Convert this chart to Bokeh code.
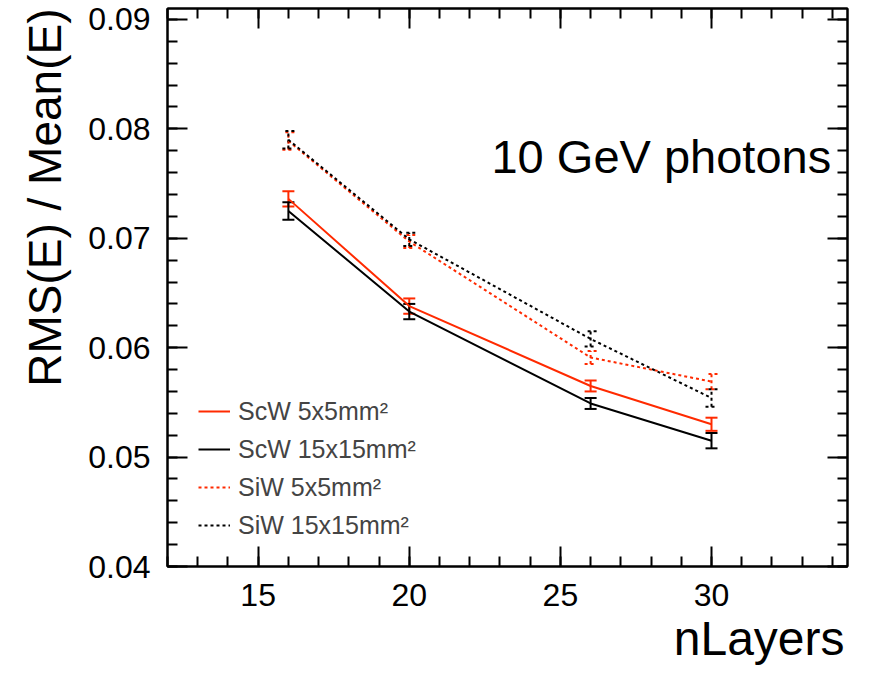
from bokeh.plotting import figure
from bokeh.models import (ColumnDataSource, Whisker, TeeHead, Label, Legend, LegendItem,
                          LinearAxis, SingleIntervalTicker, Range1d, CustomJSTickFormatter, Title)
from bokeh.embed import file_html
from bokeh.resources import INLINE

# ---- data ----
nlayers = [16, 20, 26, 30]
scw_5x5 = [0.0736, 0.0638, 0.0565, 0.0530]
scw_5x5_err = [0.0007, 0.0007, 0.0005, 0.0006]
scw_15x15 = [0.0725, 0.0633, 0.0549, 0.0515]
scw_15x15_err = [0.0008, 0.0007, 0.0005, 0.0007]
siw_5x5 = [0.0789, 0.0697, 0.0591, 0.0569]
siw_5x5_err = [0.0008, 0.0006, 0.0006, 0.0007]
siw_15x15 = [0.0790, 0.0699, 0.0608, 0.0554]
siw_15x15_err = [0.0008, 0.0006, 0.0007, 0.0008]

series_names = ["ScW 5x5mm\u00b2", "ScW 15x15mm\u00b2", "SiW 5x5mm\u00b2", "SiW 15x15mm\u00b2"]
x_title = "nLayers"
y_title = "RMS(E) / Mean(E)"
annotation = "10 GeV photons"

RED = "#ff2a00"
FONT = "Liberation Sans"

p = figure(width=854, height=673, output_backend="svg", toolbar_location=None,
           x_range=Range1d(12, 34.5), y_range=Range1d(0.04, 0.0910),
           min_border_left=167, min_border_right=7, min_border_top=8, min_border_bottom=107,
           x_axis_location=None, y_axis_location=None)
p.xgrid.visible = False
p.ygrid.visible = False
p.outline_line_color = "black"
p.outline_line_width = 2
p.background_fill_color = "white"
p.border_fill_color = "white"

def style_axis(ax, labels=True):
    ax.axis_line_width = 2
    ax.axis_line_color = "black"
    ax.major_tick_in = 20
    ax.major_tick_out = 0
    ax.minor_tick_in = 10
    ax.minor_tick_out = 0
    ax.major_tick_line_width = 2
    ax.minor_tick_line_width = 2
    ax.major_tick_line_color = "black"
    ax.minor_tick_line_color = "black"
    if labels:
        ax.major_label_text_font = FONT
        ax.major_label_text_font_size = "32px"
        ax.major_label_text_color = "black"
    else:
        ax.formatter = CustomJSTickFormatter(code="return ''")
        ax.major_label_text_font_size = "1px"
        ax.major_label_standoff = 0

xb = LinearAxis(ticker=SingleIntervalTicker(interval=5, num_minor_ticks=5))
style_axis(xb)
xb.major_label_standoff = 17
p.add_layout(xb, "below")
xt = LinearAxis(ticker=SingleIntervalTicker(interval=5, num_minor_ticks=5))
style_axis(xt, labels=False)
p.add_layout(xt, "above")

yl = LinearAxis(ticker=SingleIntervalTicker(interval=0.01, num_minor_ticks=5))
style_axis(yl)
yl.major_label_standoff = 17
p.add_layout(yl, "left")
yr = LinearAxis(ticker=SingleIntervalTicker(interval=0.01, num_minor_ticks=5))
style_axis(yr, labels=False)
p.add_layout(yr, "right")

p.add_layout(Title(text=x_title, align="right", text_font=FONT, text_font_size="48px",
                   text_font_style="normal", text_color="black", standoff=2, offset=3), "below")
p.add_layout(Title(text=y_title, align="right", text_font=FONT, text_font_size="46px",
                   text_font_style="normal", text_color="black", standoff=29), "left")

specs = [
    (scw_5x5, scw_5x5_err, RED, "solid"),
    (scw_15x15, scw_15x15_err, "black", "solid"),
    (siw_5x5, siw_5x5_err, RED, "3 3"),
    (siw_15x15, siw_15x15_err, "black", "3 3"),
]

items = []
for name, (vals, errs, col, dash) in zip(series_names, specs):
    src = ColumnDataSource(dict(x=nlayers, y=vals,
                                lo=[v - e for v, e in zip(vals, errs)],
                                hi=[v + e for v, e in zip(vals, errs)]))
    r = p.line("x", "y", source=src, line_color=col, line_width=2, line_dash=dash)
    w = Whisker(base="x", lower="lo", upper="hi", source=src,
                line_color=col, line_width=2, line_dash=dash,
                upper_head=TeeHead(size=12, line_color=col, line_width=2, line_dash=dash),
                lower_head=TeeHead(size=12, line_color=col, line_width=2, line_dash=dash))
    p.add_layout(w)
    items.append(LegendItem(label=name, renderers=[r]))

legend = Legend(items=items, location=(31, 22), orientation="vertical",
                label_text_font=FONT, label_text_font_size="25px",
                label_height=38, glyph_height=38, glyph_width=32, label_standoff=8,
                spacing=0, padding=0, margin=0,
                border_line_color=None, background_fill_alpha=0)
p.add_layout(legend, "center")

p.add_layout(Label(x=33.96, y=0.0775, text=annotation, text_font=FONT,
                   text_font_size="47px", text_align="right", text_baseline="alphabetic",
                   text_color="black"))

open("out.html", "w").write(file_html(p, INLINE))
